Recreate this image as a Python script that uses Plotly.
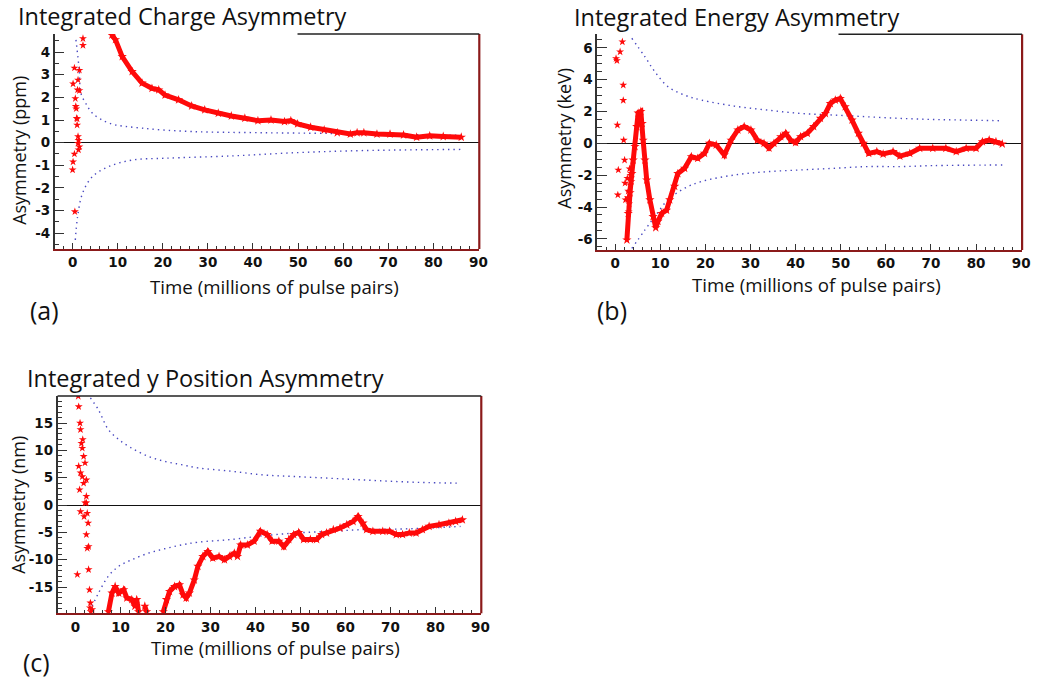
import plotly.graph_objects as go

# ---------------- Panel (a): Integrated Charge Asymmetry (ppm) ----------------
a_early_x = [0.0, 0.1, 0.4, 0.5, 0.1, 0.4, 0.6, 0.7, 0.9, 1.0, 1.2, 1.2, 1.3, 1.5, 1.1, 1.5, 1.2, 1.5, 2.3, 2.3, 0.8, 1.0, 1.3]
a_early_y = [-1.2, -0.85, -0.5, -3.05, 2.6, 3.3, 1.95, 1.6, 1.08, 0.78, 0.27, -0.03, -0.32, -0.18, 2.33, 3.2, 2.77, 2.3, 4.6, 4.3, 1.5, 1.05, 0.1]
a_main_x = [8.7, 9.5, 11.0, 13.2, 15.4, 17.6, 19.1, 20.5, 23.5, 26.4, 29.3, 32.3, 35.2, 38.2, 41.1, 44.0, 47.0, 48.4, 49.9, 52.8, 55.8, 58.7, 61.6, 63.1, 64.6, 67.5, 70.4, 73.4, 76.3, 79.2, 82.2, 86.2]
a_main_y = [4.75, 4.55, 3.8, 3.14, 2.63, 2.4, 2.33, 2.1, 1.89, 1.62, 1.45, 1.3, 1.18, 1.08, 0.97, 1.0, 0.93, 0.97, 0.83, 0.68, 0.56, 0.44, 0.38, 0.44, 0.44, 0.38, 0.38, 0.34, 0.24, 0.30, 0.27, 0.24]
a_up_x = [0.74, 1.47, 1.84, 2.9, 4.4, 8.1, 15.4, 26.4, 41.0, 60.0, 86.0]
a_up_y = [4.54, 3.2, 2.18, 1.74, 1.3, 0.86, 0.64, 0.49, 0.44, 0.40, 0.32]
a_lo_x = [0.6, 1.1, 2.2, 4.4, 8.0, 13.2, 20.5, 35.0, 50.0, 64.6, 86.0]
a_lo_y = [-4.3, -3.28, -2.24, -1.5, -1.06, -0.77, -0.69, -0.59, -0.44, -0.35, -0.3]
a_yticks = [-4, -3, -2, -1, 0, 1, 2, 3, 4]

# ---------------- Panel (b): Integrated Energy Asymmetry (keV) ----------------
b_early_x = [0.2, 0.4, 0.5, 0.7, 0.6, 1.1, 1.6, 1.8, 1.8, 1.9, 2.1, 2.2, 2.3]
b_early_y = [5.33, 5.2, 1.15, -1.67, -3.24, 5.75, 6.38, 3.66, 2.7, 0.2, -1.05, -2.5, -3.55]
b_main_x = [2.6, 2.9, 3.3, 3.7, 4.0, 4.4, 4.8, 5.1, 5.7, 6.0, 6.2, 6.6, 7.0, 7.7, 8.4, 9.0, 9.5, 10.3, 11.4, 12.1, 13.2, 13.9, 15.4, 16.9, 18.3, 19.8, 20.9, 22.4, 24.2, 25.7, 27.2, 28.6, 30.1, 31.5, 33.0, 34.1, 35.2, 36.7, 37.8, 38.9, 40.0, 41.1, 42.6, 44.0, 45.5, 46.6, 47.7, 48.8, 49.9, 51.0, 52.5, 53.9, 55.0, 56.2, 58.0, 59.4, 61.6, 63.1, 65.3, 67.5, 70.4, 73.3, 75.6, 77.8, 80.0, 81.4, 82.9, 84.4, 85.8]
b_main_y = [-6.07, -4.4, -3.1, -1.9, -1.05, -0.2, 1.05, 1.9, 2.0, 1.25, 0.2, -1.05, -2.3, -3.55, -4.6, -5.3, -4.9, -4.4, -4.2, -3.55, -2.7, -1.9, -1.57, -0.84, -0.94, -0.63, 0.0, -0.1, -0.73, 0.2, 0.84, 1.05, 0.84, 0.2, 0.0, -0.3, 0.0, 0.42, 0.63, 0.2, 0.05, 0.42, 0.63, 1.05, 1.57, 1.88, 2.5, 2.72, 2.82, 2.3, 1.46, 0.63, 0.0, -0.63, -0.52, -0.67, -0.52, -0.8, -0.63, -0.31, -0.31, -0.31, -0.52, -0.31, -0.31, 0.1, 0.21, 0.1, -0.04]
b_cl_x = [2.7, 2.9, 3.1, 3.3, 3.0, 3.4, 2.8, 3.2, 3.6]
b_cl_y = [-2.2, -3.0, -3.8, -2.6, -4.3, -2.0, -3.4, -1.6, -2.4]
b_up_x = [3.7, 6.6, 8.8, 11.7, 15.4, 19.1, 26.4, 33.7, 41.1, 48.4, 55.8, 63.1, 70.4, 77.8, 85.8]
b_up_y = [6.6, 5.44, 4.5, 3.56, 3.03, 2.72, 2.34, 2.09, 1.88, 1.78, 1.67, 1.57, 1.5, 1.46, 1.42]
b_lo_x = [3.7, 6.6, 8.8, 11.7, 15.4, 19.1, 26.4, 33.7, 41.1, 48.4, 55.8, 63.1, 70.4, 85.8]
b_lo_y = [-6.6, -5.44, -4.6, -3.55, -2.82, -2.4, -1.99, -1.78, -1.67, -1.57, -1.46, -1.46, -1.4, -1.36]
b_yticks = [-6, -4, -2, 0, 2, 4, 6]

# ---------------- Panel (c): Integrated y Position Asymmetry (nm) ----------------
c_early_x = [0.6, 0.7, 1.0, 1.1, 1.3, 1.5, 1.6, 1.8, 2.1, 0.7, 1.1, 0.9, 1.1, 1.5, 1.8, 2.4, 2.4, 2.6, 2.8, 2.9, 0.4, 2.9, 3.1, 3.3, 3.7, 2.4, 2.1, 1.9, 2.4, 2.6, 3.4, 3.2]
c_early_y = [19.9, 18.0, 15.0, 13.8, 11.3, 10.4, 12.0, 8.9, 7.7, 7.1, 5.9, 2.8, -1.2, 5.2, 4.0, 1.6, 0.4, -1.5, -3.3, -7.6, -12.7, -11.8, -15.5, -17.9, -19.1, 4.6, 0.4, -2.1, -5.4, -7.9, -19.5, -18.8]
c_main_x = [7.3, 8.1, 8.8, 9.6, 10.7, 11.4, 12.5, 13.2, 13.6, 14.0, None,
            15.4, 15.8, None,
            19.5, 20.2, 20.9, 22.0, 23.1, 23.9, 24.6, 25.3, 26.4, 27.2, 28.3, 29.4, 30.5, 31.9, 33.1, 34.2, 35.3, 36.0, 36.7, 38.2, 39.7, 41.1, 42.6, 43.7, 45.2, 46.3, 47.4, 48.5, 49.6, 50.7, 52.2, 53.6, 54.7, 55.8, 57.3, 58.8, 60.3, 61.7, 62.8, 63.9, 64.7, 66.1, 68.3, 69.8, 71.3, 72.7, 74.2, 75.7, 77.1, 78.6, 80.8, 83.0, 84.5, 86.0]
c_main_y = [-19.5, -16.1, -14.9, -16.1, -15.5, -17.0, -17.3, -18.5, -17.3, -19.5, None,
            -18.5, -19.5, None,
            -19.5, -17.3, -15.8, -14.9, -14.6, -16.4, -17.0, -16.1, -13.7, -11.2, -9.4, -8.5, -9.7, -9.4, -10.0, -9.4, -8.8, -9.4, -7.3, -7.3, -6.6, -4.8, -5.4, -6.6, -6.6, -7.6, -6.3, -5.4, -5.0, -6.3, -6.3, -6.3, -5.4, -5.1, -4.5, -4.2, -3.6, -3.0, -2.1, -3.3, -4.5, -4.8, -4.8, -4.8, -5.4, -5.4, -5.1, -5.1, -4.5, -3.9, -3.6, -3.3, -3.0, -2.7]
c_up_x = [3.3, 5.1, 7.3, 9.6, 12.5, 16.2, 19.8, 23.5, 27.2, 34.5, 41.9, 49.2, 56.6, 63.9, 71.3, 78.6, 85.6]
c_up_y = [19.6, 17.4, 13.8, 12.0, 10.4, 8.9, 8.0, 7.4, 6.8, 6.2, 5.5, 5.2, 4.9, 4.6, 4.3, 4.1, 4.0]
c_lo_x = [3.7, 5.1, 7.3, 9.6, 12.5, 16.2, 19.8, 23.5, 27.2, 34.5, 41.9, 49.2, 56.6, 63.9, 71.3, 78.6, 85.6]
c_lo_y = [-18.5, -16.1, -13.0, -11.2, -10.0, -8.8, -8.0, -7.3, -6.8, -6.3, -5.6, -5.1, -4.8, -4.5, -4.4, -4.2, -3.9]
c_yticks = [-15, -10, -5, 0, 5, 10, 15]

x_ticks = [0, 10, 20, 30, 40, 50, 60, 70, 80, 90]

RED = "#ff0a0a"
BLUE = "#4848c0"
DARKRED = "#8b1a1a"
W, H = 1044, 682

fig = go.Figure()

panels = [
    ("x", "y", a_early_x, a_early_y, a_main_x, a_main_y, a_up_x, a_up_y, a_lo_x, a_lo_y, None, None),
    ("x2", "y2", b_early_x, b_early_y, b_main_x, b_main_y, b_up_x, b_up_y, b_lo_x, b_lo_y, b_cl_x, b_cl_y),
    ("x3", "y3", c_early_x, c_early_y, c_main_x, c_main_y, c_up_x, c_up_y, c_lo_x, c_lo_y, None, None),
]

MK = dict(color=RED, size=6, symbol="star")
for xa, ya, ex, ey, mx, my, ux, uy, lx, ly, clx, cly in panels:
    for ex_, ey_ in [(ux, uy), (lx, ly)]:
        fig.add_trace(go.Scatter(x=ex_, y=ey_, xaxis=xa, yaxis=ya, mode="lines",
                                 line=dict(color=BLUE, width=1.4, dash="1.4px,4px", shape="spline"),
                                 hoverinfo="skip", showlegend=False))
    fig.add_trace(go.Scatter(x=mx, y=my, xaxis=xa, yaxis=ya, mode="lines+markers",
                             line=dict(color=RED, width=5),
                             marker=dict(color=RED, size=7, symbol="star"),
                             connectgaps=False, showlegend=False))
    fig.add_trace(go.Scatter(x=ex, y=ey, xaxis=xa, yaxis=ya, mode="markers",
                             marker=MK, showlegend=False))
    if clx is not None:
        fig.add_trace(go.Scatter(x=clx, y=cly, xaxis=xa, yaxis=ya, mode="markers",
                                 marker=MK, showlegend=False))

tickfont = dict(family="DejaVu Sans", size=13.5, color="#111", weight="bold")

def bold(vals):
    return ["<b>%d</b>" % v for v in vals]

def xaxis(domain, anchor):
    return dict(domain=domain, anchor=anchor, range=[-4.0, 90.2],
                tickmode="array", tickvals=x_ticks, ticktext=bold(x_ticks),
                ticks="inside", ticklen=6, tickcolor="#333", tickwidth=1.2,
                minor=dict(ticks="inside", ticklen=3, dtick=2, tick0=0, tickcolor="#333", showgrid=False),
                showline=True, linecolor=DARKRED, linewidth=2.2,
                showgrid=False, zeroline=False, tickfont=tickfont, fixedrange=True)

def yaxis(domain, anchor, rng, ticks, mdtick):
    return dict(domain=domain, anchor=anchor, range=rng,
                tickmode="array", tickvals=ticks, ticktext=bold(ticks),
                ticks="inside", ticklen=10, tickcolor="#333", tickwidth=1.2,
                minor=dict(ticks="inside", ticklen=5, dtick=mdtick, tick0=0, tickcolor="#333", showgrid=False),
                showline=True, linecolor="#333", linewidth=1.5,
                showgrid=False, zeroline=True, zerolinecolor="#111", zerolinewidth=1.2,
                tickfont=tickfont, fixedrange=True)

dom_a_x = [55 / W, 483 / W]; dom_a_y = [1 - 249 / H, 1 - 34 / H]
dom_b_x = [601.7 / W, 1030 / W]; dom_b_y = [1 - 250 / H, 1 - 34.3 / H]
dom_c_x = [58 / W, 485 / W]; dom_c_y = [1 - 613.3 / H, 1 - 396 / H]

fig.update_layout(
    width=W, height=H, margin=dict(l=0, r=0, t=0, b=0),
    paper_bgcolor="white", plot_bgcolor="white", showlegend=False,
    xaxis=xaxis(dom_a_x, "y"), yaxis=yaxis(dom_a_y, "x", [-4.7, 4.8], a_yticks, 0.5),
    xaxis2=xaxis(dom_b_x, "y2"), yaxis2=yaxis(dom_b_y, "x2", [-6.7, 6.85], b_yticks, 0.5),
    xaxis3=xaxis(dom_c_x, "y3"), yaxis3=yaxis(dom_c_y, "x3", [-19.8, 19.95], c_yticks, 1),
)

shapes = []
for xr, yr, top_start in [("x", "y", 0.572), ("x2", "y2", 0.568), ("x3", "y3", 0.0)]:
    shapes.append(dict(type="line", xref=xr + " domain", yref=yr + " domain",
                       x0=1, x1=1, y0=0, y1=1, line=dict(color=DARKRED, width=2.2)))
    shapes.append(dict(type="line", xref=xr + " domain", yref=yr + " domain",
                       x0=top_start, x1=1, y0=1, y1=1, line=dict(color="#222", width=1.5)))
fig.update_layout(shapes=shapes)

TF = "Open Sans, Lato, sans-serif"
ann = []
def text(t, x, y, size, angle=0, xanchor="center"):
    ann.append(dict(text=t, x=x / W, y=1 - y / H, xref="paper", yref="paper",
                    xanchor=xanchor, yanchor="middle", showarrow=False, textangle=angle,
                    font=dict(family=TF, size=size, color="#111")))

text("Integrated Charge Asymmetry", 16, 16, 23.5, xanchor="left")
text("Integrated Energy Asymmetry", 576, 17, 23.5, xanchor="left")
text("Integrated y Position Asymmetry", 25, 378, 23.5, xanchor="left")
text("Time (millions of pulse pairs)", 277, 286, 18.7)
text("Time (millions of pulse pairs)", 823, 284, 18.7)
text("Time (millions of pulse pairs)", 278, 647, 18.7)
text("Asymmetry (ppm)", 19, 150, 18, angle=-90)
text("Asymmetry (keV)", 568, 138, 18, angle=-90)
text("Asymmetry (nm)", 18, 505, 18, angle=-90)
text("(a)", 45, 310, 25)
text("(b)", 617, 310, 25)
text("(c)", 37, 662, 25)
fig.update_layout(annotations=ann)

fig.write_html("out.html")
